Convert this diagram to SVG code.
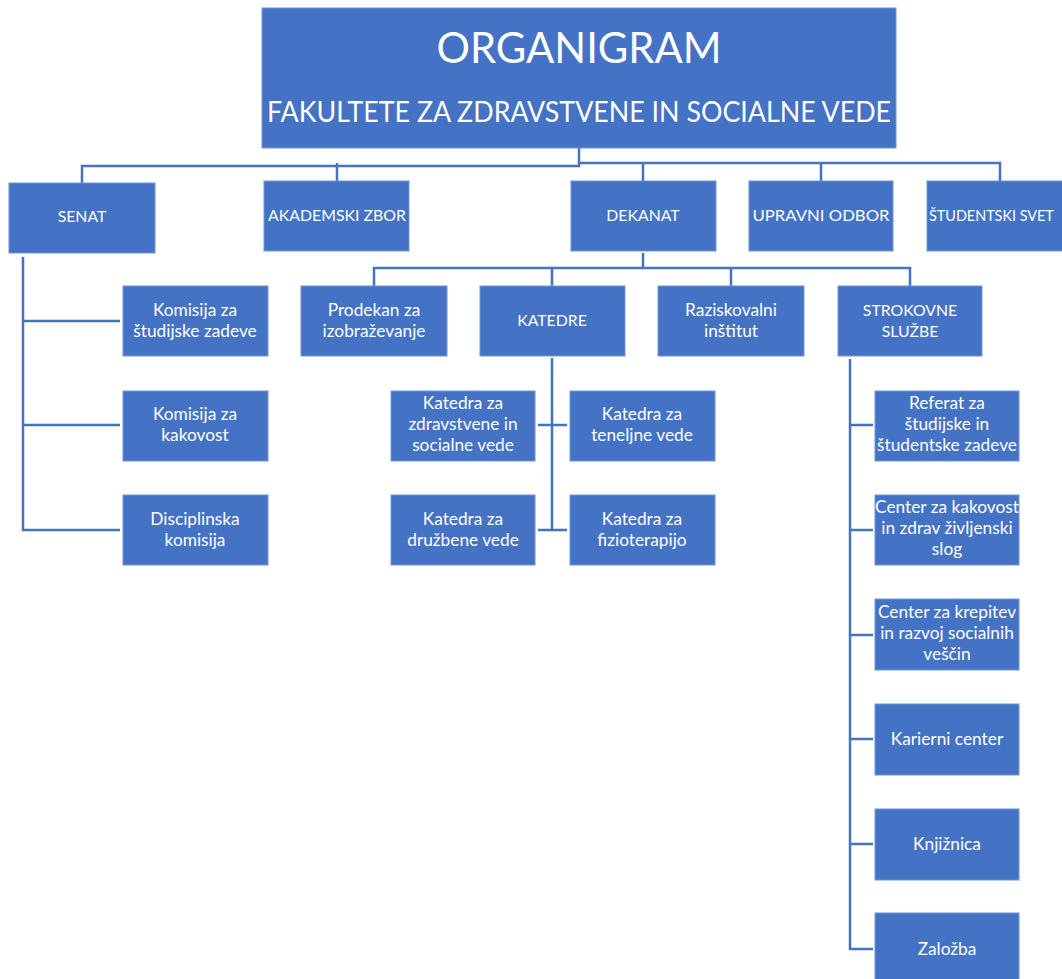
<svg xmlns="http://www.w3.org/2000/svg" width="1062" height="979" viewBox="0 0 1062 979">
<style>
.b{fill:#4472C4;stroke:#7096d8;stroke-width:1}
.t{font-family:Lato,"Open Sans",sans-serif;font-size:17.3px;fill:#ffffff;text-anchor:middle}
.u{font-family:Lato,"Open Sans",sans-serif;font-size:15.8px;fill:#ffffff;text-anchor:middle}
.c{fill:none;stroke:#4472C4;stroke-width:2.5}
</style>
<rect width="1062" height="979" fill="#ffffff"/>
<g id="connectors">
<path class="c" d="M579,148 V166 H82 V183"/>
<path class="c" d="M579,163 H1000 V183 M337,163 V181 M643,163 V181 M821,163 V181"/>
<path class="c" d="M23,257 V530 H120 M23,321 H120 M23,425 H120"/>
<path class="c" d="M643,253 V268 M374,286 V268 H910 V286 M552,268 V286 M731,268 V286"/>
<path class="c" d="M552,358 V530 M538,425 H567 M538,530 H567"/>
<path class="c" d="M850,359 V949 H873 M850,425 H873 M850,530 H873 M850,635 H873 M850,739 H873 M850,844 H873"/>
</g>
<g id="title">
<rect class="b" x="262" y="8" width="634" height="140"/>
<text x="579" y="63" font-family="Lato,'Open Sans',sans-serif" font-size="42" fill="#fff" text-anchor="middle" textLength="285" lengthAdjust="spacingAndGlyphs">ORGANIGRAM</text>
<text x="579" y="122" font-family="Lato,'Open Sans',sans-serif" font-size="28" fill="#fff" text-anchor="middle" textLength="624" lengthAdjust="spacingAndGlyphs">FAKULTETE ZA ZDRAVSTVENE IN SOCIALNE VEDE</text>
</g>
<g id="senat"><rect class="b" x="9" y="183" width="146" height="70"/><text class="u" x="82" y="222">SENAT</text></g>
<g id="akademski-zbor"><rect class="b" x="264" y="181" width="145" height="70"/><text class="u" x="337" y="221" textLength="138" lengthAdjust="spacingAndGlyphs">AKADEMSKI ZBOR</text></g>
<g id="dekanat"><rect class="b" x="571" y="181" width="145" height="70"/><text class="u" x="643" y="221">DEKANAT</text></g>
<g id="upravni-odbor"><rect class="b" x="749" y="181" width="144" height="70"/><text class="u" x="821" y="221" textLength="137" lengthAdjust="spacingAndGlyphs">UPRAVNI ODBOR</text></g>
<g id="studentski-svet"><rect class="b" x="927" y="181" width="145" height="70"/><text class="u" x="929" y="221" style="text-anchor:start;font-size:14.4px">ŠTUDENTSKI SVET</text></g>

<g id="komisija-studijske"><rect class="b" x="123" y="286" width="145" height="70"/><text class="t" x="195" y="316">Komisija za</text><text class="t" x="195" y="337">študijske zadeve</text></g>
<g id="komisija-kakovost"><rect class="b" x="123" y="391" width="145" height="70"/><text class="t" x="195" y="420">Komisija za</text><text class="t" x="195" y="441">kakovost</text></g>
<g id="disciplinska"><rect class="b" x="123" y="495" width="145" height="70"/><text class="t" x="195" y="525">Disciplinska</text><text class="t" x="195" y="546">komisija</text></g>

<g id="prodekan"><rect class="b" x="301" y="286" width="146" height="70"/><text class="t" x="374" y="316">Prodekan za</text><text class="t" x="374" y="337">izobraževanje</text></g>
<g id="katedre"><rect class="b" x="480" y="286" width="145" height="70"/><text class="u" x="552" y="326">KATEDRE</text></g>
<g id="raziskovalni"><rect class="b" x="658" y="286" width="146" height="70"/><text class="t" x="731" y="316">Raziskovalni</text><text class="t" x="731" y="337">inštitut</text></g>
<g id="strokovne"><rect class="b" x="838" y="286" width="144" height="70"/><text class="u" x="910" y="316">STROKOVNE</text><text class="u" x="910" y="337">SLUŽBE</text></g>

<g id="katedra-zdrav"><rect class="b" x="391" y="391" width="144" height="70"/><text class="t" x="463" y="409">Katedra za</text><text class="t" x="463" y="430">zdravstvene in</text><text class="t" x="463" y="451">socialne vede</text></g>
<g id="katedra-teneljne"><rect class="b" x="570" y="391" width="145" height="70"/><text class="t" x="642" y="420">Katedra za</text><text class="t" x="642" y="441">teneljne vede</text></g>
<g id="katedra-druzbene"><rect class="b" x="391" y="495" width="144" height="70"/><text class="t" x="463" y="525">Katedra za</text><text class="t" x="463" y="546">družbene vede</text></g>
<g id="katedra-fizio"><rect class="b" x="570" y="495" width="145" height="70"/><text class="t" x="642" y="525">Katedra za</text><text class="t" x="642" y="546">fizioterapijo</text></g>

<g id="referat"><rect class="b" x="875" y="391" width="144" height="70"/><text class="t" x="947" y="409">Referat za</text><text class="t" x="947" y="430">študijske in</text><text class="t" x="947" y="451">študentske zadeve</text></g>
<g id="center-kakovost"><rect class="b" x="875" y="495" width="144" height="70"/><text class="t" x="947" y="513">Center za kakovost</text><text class="t" x="947" y="534">in zdrav življenski</text><text class="t" x="947" y="555">slog</text></g>
<g id="center-krepitev"><rect class="b" x="875" y="599" width="144" height="71"/><text class="t" x="947" y="618">Center za krepitev</text><text class="t" x="947" y="639">in razvoj socialnih</text><text class="t" x="947" y="660">veščin</text></g>
<g id="karierni"><rect class="b" x="875" y="704" width="144" height="71"/><text class="t" x="947" y="745">Karierni center</text></g>
<g id="knjiznica"><rect class="b" x="875" y="809" width="144" height="71"/><text class="t" x="947" y="850">Knjižnica</text></g>
<g id="zalozba"><rect class="b" x="875" y="913" width="144" height="75"/><text class="t" x="947" y="955">Založba</text></g>
</svg>
